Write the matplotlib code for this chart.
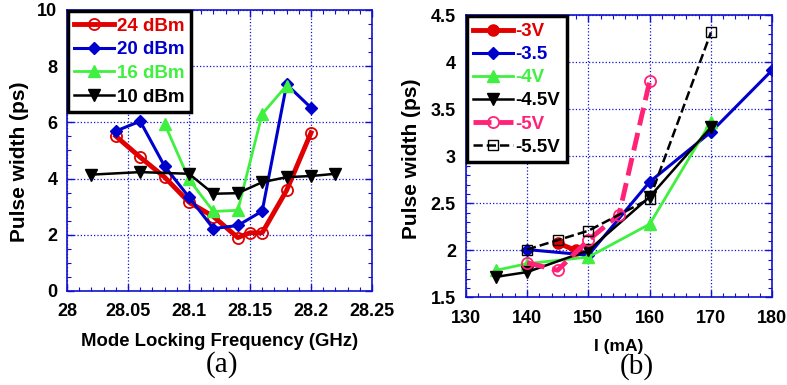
import matplotlib
matplotlib.use("Agg")
import matplotlib.pyplot as plt
from matplotlib.ticker import MultipleLocator

plt.rcParams['font.family'] = ['Liberation Sans', 'DejaVu Sans']
plt.rcParams['font.weight'] = 'bold'

# ---- panel (a) data: pulse width vs mode locking frequency
f24 = [28.04, 28.06, 28.08, 28.10, 28.12, 28.14, 28.15, 28.16, 28.18, 28.20]
w24 = [5.51, 4.76, 4.05, 3.16, 2.65, 1.90, 2.07, 2.07, 3.58, 5.63]
f20 = [28.04, 28.06, 28.08, 28.10, 28.12, 28.14, 28.16, 28.18, 28.20]
w20 = [5.69, 6.04, 4.44, 3.34, 2.22, 2.33, 2.84, 7.35, 6.52]
f16 = [28.08, 28.10, 28.12, 28.14, 28.16, 28.18]
w16 = [5.95, 3.97, 2.83, 2.87, 6.30, 7.31]
f10 = [28.02, 28.06, 28.10, 28.12, 28.14, 28.16, 28.18, 28.20, 28.22]
w10 = [4.14, 4.23, 4.17, 3.46, 3.48, 3.87, 4.05, 4.09, 4.17]

# ---- panel (b) data: pulse width vs current
i3 = [145, 148]
p3 = [2.08, 2.00]
i35 = [140, 150, 160, 170, 180]
p35 = [2.01, 1.95, 2.73, 3.26, 3.92]
i4 = [135, 140, 150, 160, 170]
p4 = [1.79, 1.86, 1.93, 2.28, 3.37]
i45 = [135, 140, 150, 160, 170]
p45 = [1.72, 1.77, 2.00, 2.57, 3.31]
i5 = [140, 145, 150, 155, 160]
p5 = [1.87, 1.79, 2.11, 2.38, 3.80]
i55 = [140, 145, 150, 160, 170]
p55 = [2.01, 2.11, 2.21, 2.55, 4.32]

RED = '#e00000'
BLUE = '#0000cc'
GREEN = '#40f040'
PINK = '#ff2277'
FRAME = '#1010d0'

fig = plt.figure(figsize=(7.87, 3.85), dpi=100)
axa = fig.add_axes([0.0851, 0.2442, 0.3876, 0.7300])
axb = fig.add_axes([0.5917, 0.2273, 0.3896, 0.7325])

def style(ax):
    for s in ax.spines.values():
        s.set_color(FRAME)
        s.set_linewidth(1.2)
    ax.tick_params(which='both', direction='in', top=True, right=True,
                   color=FRAME, labelsize=13)
    ax.tick_params(axis='x', pad=9)
    ax.tick_params(axis='y', pad=7)
    ax.tick_params(which='major', length=5, width=1)
    ax.tick_params(which='minor', length=3, width=0.8)
    ax.grid(True, which='major', color=FRAME, linestyle=':', linewidth=0.9)
    ax.set_axisbelow(True)
    for lab in ax.get_xticklabels() + ax.get_yticklabels():
        lab.set_fontweight('bold')

def legend(ax, colors, spacing):
    lg = ax.legend(loc='upper left', fontsize=13.5, handlelength=2.1, borderaxespad=0.05,
                   labelspacing=spacing, handletextpad=0.15, fancybox=False, framealpha=1,
                   edgecolor='black', borderpad=0.35)
    lg.get_frame().set_linewidth(2.5)
    for t, c in zip(lg.get_texts(), colors):
        t.set_color(c)
        t.set_fontweight('bold')

# panel (a)
axa.plot(f24, w24, '-o', color=RED, lw=3.5, ms=8, mfc='none', mew=1.3, label='24 dBm')
axa.plot(f20, w20, '-D', color=BLUE, lw=2.2, ms=6.5, label='20 dBm')
axa.plot(f16, w16, '-^', color=GREEN, lw=2, ms=8, label='16 dBm')
axa.plot(f10, w10, '-v', color='black', lw=1.8, ms=8, label='10 dBm')
axa.set_xlim(28, 28.25)
axa.set_ylim(0, 10)
axa.xaxis.set_minor_locator(MultipleLocator(0.01))
axa.yaxis.set_major_locator(MultipleLocator(2))
axa.yaxis.set_minor_locator(MultipleLocator(0.5))
axa.set_xticks([28, 28.05, 28.1, 28.15, 28.2, 28.25])
axa.set_xticklabels(['28', '28.05', '28.1', '28.15', '28.2', '28.25'])
style(axa)
axa.set_xlabel('Mode Locking Frequency (GHz)', fontsize=13.3, fontweight='bold', labelpad=9)
axa.set_ylabel('Pulse width (ps)', fontsize=15, fontweight='bold')
axa.yaxis.set_label_coords(-0.125, 0.459)
legend(axa, [RED, BLUE, GREEN, 'black'], 0.35)

# panel (b)
axb.plot(i3, p3, '-o', color=RED, lw=3.5, ms=8, label='-3V')
axb.plot(i35, p35, '-D', color=BLUE, lw=2.2, ms=6.5, label='-3.5')
axb.plot(i4, p4, '-^', color=GREEN, lw=2, ms=8, label='-4V')
axb.plot(i45, p45, '-v', color='black', lw=1.8, ms=8, label='-4.5V')
axb.plot(i5, p5, '--o', color=PINK, lw=3.5, ms=8, mfc='none', mew=1.3, label='-5V')
axb.plot(i55, p55, '--s', color='black', lw=1.8, ms=7, mfc='none', mew=1, label='-5.5V')
axb.set_xlim(130, 180)
axb.set_ylim(1.5, 4.5)
axb.xaxis.set_major_locator(MultipleLocator(10))
axb.xaxis.set_minor_locator(MultipleLocator(2))
axb.yaxis.set_minor_locator(MultipleLocator(0.1))
axb.set_yticks([1.5, 2, 2.5, 3, 3.5, 4, 4.5])
axb.set_yticklabels(['1.5', '2', '2.5', '3', '3.5', '4', '4.5'])
style(axb)
axb.set_xlabel('I (mA)', fontsize=12.5, fontweight='bold', labelpad=9)
axb.set_ylabel('Pulse width (ps)', fontsize=15, fontweight='bold')
axb.yaxis.set_label_coords(-0.145, 0.491)
legend(axb, [RED, BLUE, GREEN, 'black', PINK, 'black'], 0.32)

serif = ['Liberation Serif', 'DejaVu Serif']
fig.text(0.282, 0.052, '(a)', fontsize=21, family=serif, fontweight='normal',
         ha='center', va='center')
fig.text(0.809, 0.049, '(b)', fontsize=21, family=serif, fontweight='normal',
         ha='center', va='center')

fig.savefig('out.png', dpi=100)
